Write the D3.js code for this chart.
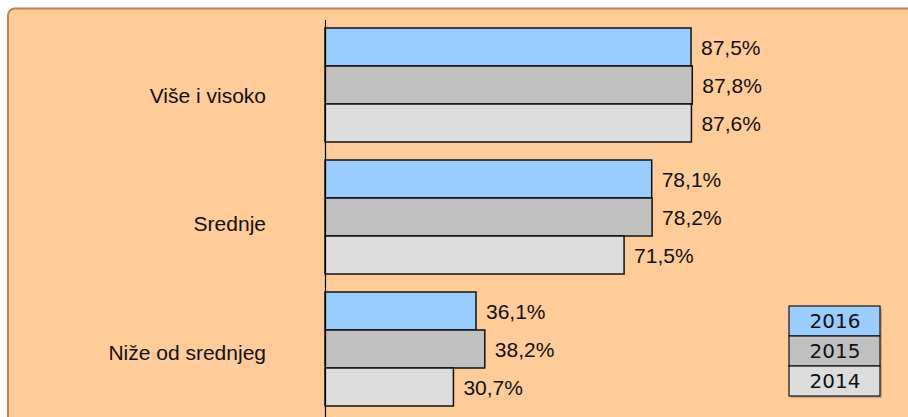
<!DOCTYPE html>
<html><head><meta charset="utf-8">
<script src="https://cdn.jsdelivr.net/npm/d3@7"></script>
<style>body{margin:0;background:#fff;}svg{display:block;}</style>
</head><body>
<svg id="c" width="908" height="417"></svg>
<script>
const categories = ["Više i visoko", "Srednje", "Niže od srednjeg"];
const years = ["2016", "2015", "2014"];
const v2016 = [87.5, 78.1, 36.1];
const v2015 = [87.8, 78.2, 38.2];
const v2014 = [87.6, 71.5, 30.7];
const colors = ["#99ccff", "#c0c0c0", "#dddddd"];

const seriesVals = [v2016, v2015, v2014];
const svg = d3.select("#c");

svg.append("rect").attr("x", 8).attr("y", 8.5).attr("width", 960).attr("height", 480)
  .attr("rx", 7).attr("fill", "#ffcc99").attr("stroke", "#c47e55").attr("stroke-width", 2);

const x0 = 325;
const x = d3.scaleLinear().domain([0, 100]).range([x0, 743.3]);
const y = d3.scaleBand().domain(categories).range([19, 415]).paddingInner(18/132).paddingOuter(9/132);
const yIn = d3.scaleBand().domain(years).range([0, y.bandwidth()]);
const yLab = d3.scaleBand().domain(categories).range([30.75, 416.25]);

const g = svg.append("g");
categories.forEach((c, i) => {
  const gg = g.append("g").attr("transform", `translate(0,${y(c)})`);
  years.forEach((yr, j) => {
    const val = seriesVals[j][i];
    gg.append("rect")
      .attr("x", x(0)).attr("y", yIn(yr))
      .attr("width", x(val) - x(0)).attr("height", yIn.bandwidth())
      .attr("fill", colors[j]).attr("stroke", "#111").attr("stroke-width", 1.5);
    gg.append("text")
      .attr("x", x(val) + 10).attr("y", yIn(yr) + yIn.bandwidth() / 2)
      .attr("dy", "0.36em")
      .attr("font-family", "Liberation Sans, Arial, sans-serif").attr("font-size", 21)
      .attr("fill", "#111")
      .text(d3.format(".1f")(val).replace(".", ",") + "%");
  });
  svg.append("text")
    .attr("x", 266).attr("y", yLab(c) + yLab.bandwidth() / 2)
    .attr("dy", "0.36em").attr("text-anchor", "end")
    .attr("font-family", "Liberation Sans, Arial, sans-serif").attr("font-size", 21)
    .attr("fill", "#111").text(c);
});

svg.append("line").attr("x1", x0 + 0.5).attr("x2", x0 + 0.5).attr("y1", 20).attr("y2", 417)
  .attr("stroke", "#000").attr("stroke-width", 1.2);

// legend
const lg = svg.append("g").attr("transform", "translate(789,306)");
const ly = d3.scaleBand().domain(years).range([0, 90]);
lg.append("rect").attr("x", 2).attr("y", 2).attr("width", 91).attr("height", 90).attr("fill", "#a08070").attr("opacity", 0.5);
years.forEach((yr, j) => {
  lg.append("rect").attr("x", 0).attr("y", ly(yr)).attr("width", 91).attr("height", ly.bandwidth())
    .attr("fill", colors[j]).attr("stroke", "#111").attr("stroke-width", 1.2);
  lg.append("text").attr("x", 46).attr("y", ly(yr) + ly.bandwidth() / 2).attr("dy", "0.36em")
    .attr("text-anchor", "middle")
    .attr("font-family", "DejaVu Sans, Verdana, sans-serif").attr("font-size", 20)
    .attr("fill", "#111").text(yr);
});
</script>
</body></html>
